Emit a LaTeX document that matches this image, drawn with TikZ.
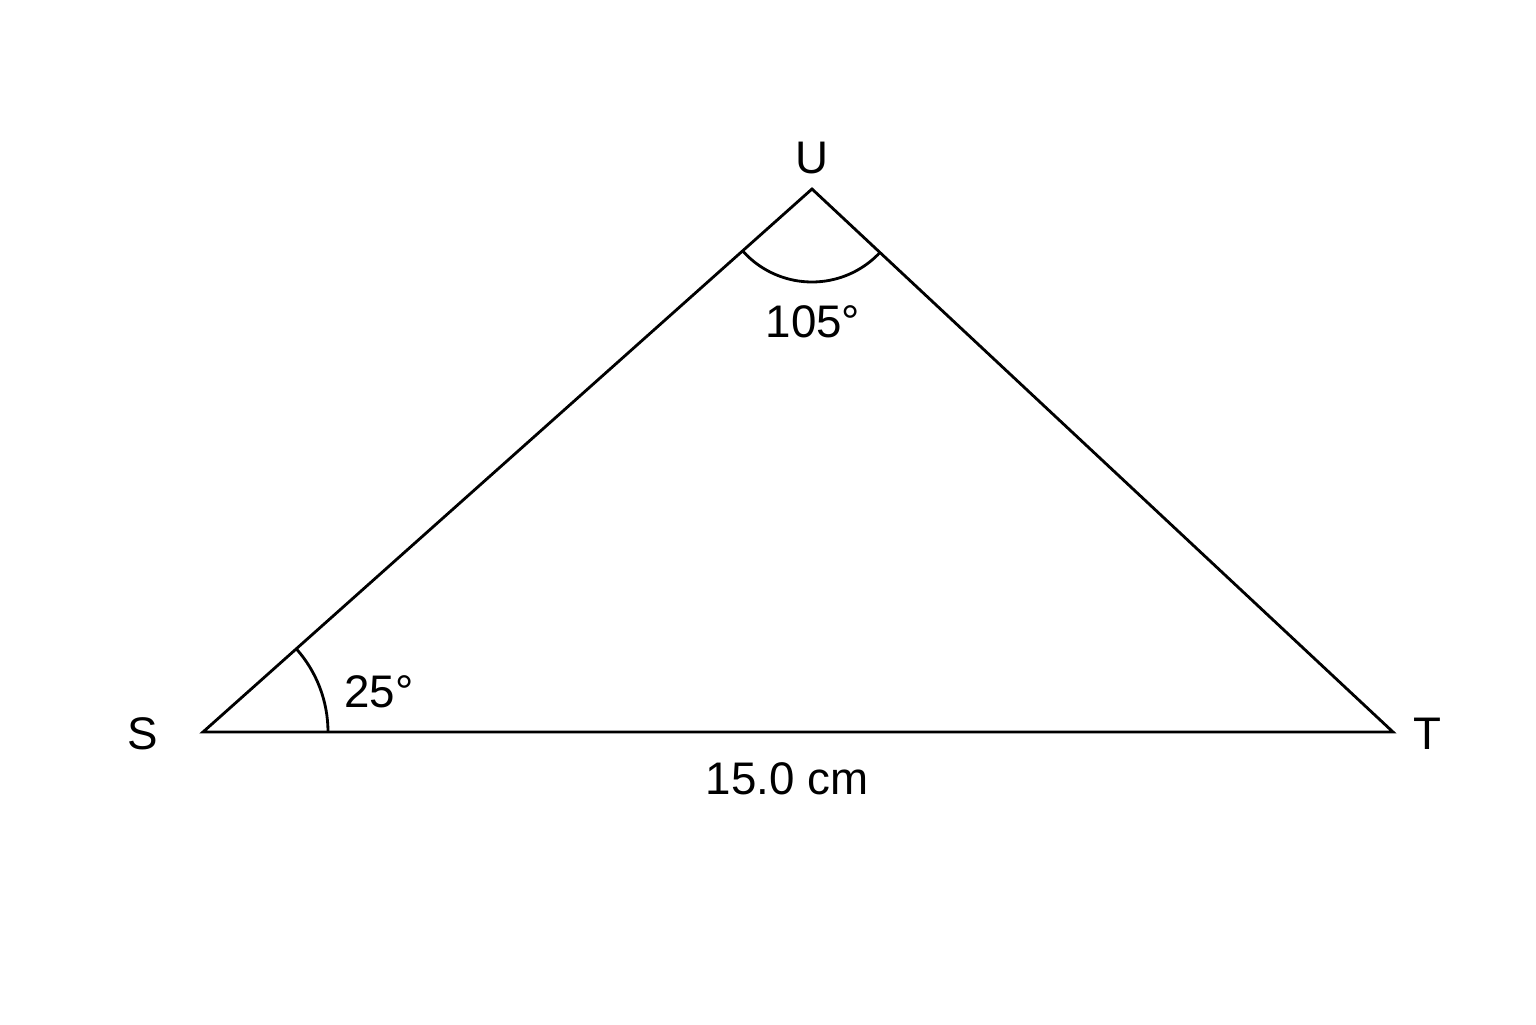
\documentclass[tikz,border=0pt]{standalone}
\usepackage{fontspec}
\setmainfont{Liberation Sans}
\begin{document}
\begin{tikzpicture}[line width=0.8pt, every node/.style={font=\fontsize{13}{15}\selectfont}]
\useasboundingbox (0,0) rectangle (15.36,10.24);
% Ecken
\coordinate (S) at (2.03,2.92);
\coordinate (T) at (13.93,2.92);
\coordinate (U) at (8.12,8.35);

% Dreieck
\draw[line join=miter] (S) -- (T) -- (U) -- cycle;

% Winkelbögen
\draw ([shift={(0:1.25)}]S) arc (0:41.7:1.25);
\draw ([shift={(221.7:0.93)}]U) arc (221.7:316.9:0.93);

% Beschriftungen
\node (labelS) at (1.43,2.90) {S};
\node (labelT) at (14.27,2.90) {T};
\node (labelU) at (8.12,8.66) {U};
\node (angleU) at (8.13,7.02) {105°};
\node (angleS) at (3.79,3.32) {25°};
\node (side) at (7.87,2.45) {15.0 cm};
\end{tikzpicture}
\end{document}
